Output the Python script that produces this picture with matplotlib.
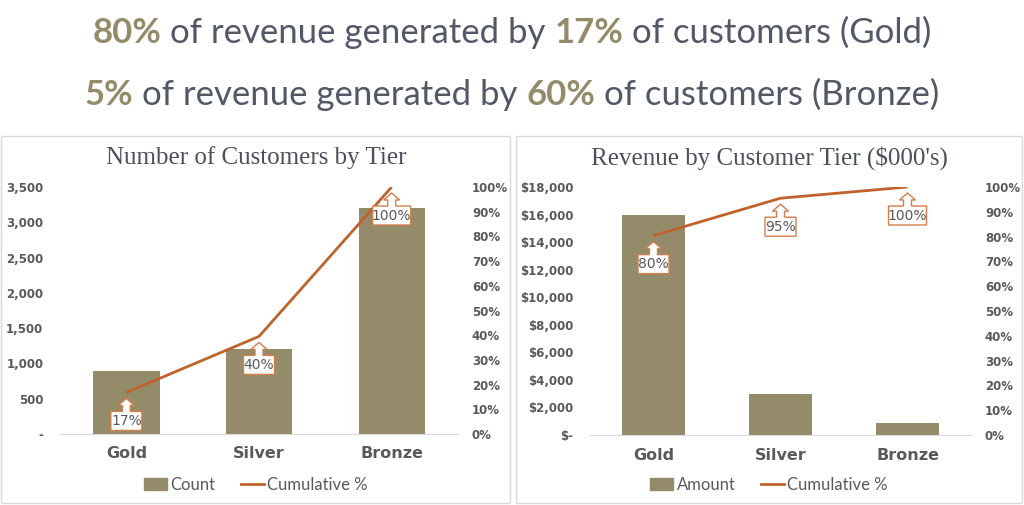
import numpy as np
import matplotlib
matplotlib.use("Agg")
import matplotlib.pyplot as plt
import matplotlib.transforms as mtransforms
from matplotlib.patches import Polygon, Rectangle
from matplotlib.lines import Line2D
from matplotlib.ticker import FixedLocator, FuncFormatter

# ---- data ----
tiers = ["Gold", "Silver", "Bronze"]
customer_counts = [890, 1200, 3200]
revenue_amounts = [16000, 3000, 900]   # $000's

count_ticks = [0, 500, 1000, 1500, 2000, 2500, 3000, 3500]
revenue_ticks = [0, 2000, 4000, 6000, 8000, 10000, 12000, 14000, 16000, 18000]
pct_ticks = [0.0, 0.1, 0.2, 0.3, 0.4, 0.5, 0.6, 0.7, 0.8, 0.9, 1.0]

header_lines = [
    [("80%", True), ("of revenue generated by", False), ("17%", True), ("of customers (Gold)", False)],
    [("5%", True), ("of revenue generated by", False), ("60%", True), ("of customers (Bronze)", False)],
]

BAR = "#948B6A"
LINE = "#C0622C"
CALLOUT_EDGE = "#D27F4B"
TXT = "#595959"
HEAD = "#535866"
TITLE = "#4B505C"
GRID = "#D9D9D9"

W, H = 1024, 505
fig = plt.figure(figsize=(W / 100, H / 100), dpi=100)


def fx(px):
    return px / W


def fy(py):
    return 1 - py / H


# ---- header with coloured percentages ----
renderer = fig.canvas.get_renderer()
head_font = "Lato"
head_size = 25


def draw_rich(y_px, parts):
    sp = fig.text(0, 0, "a a", fontsize=head_size, family=head_font)
    nsp = fig.text(0, 0, "aa", fontsize=head_size, family=head_font)
    space = sp.get_window_extent(renderer).width - nsp.get_window_extent(renderer).width
    sp.remove(); nsp.remove()
    objs, widths = [], []
    for s, bold in parts:
        t = fig.text(0, fy(y_px), s, fontsize=head_size, family=head_font,
                     fontweight="bold" if bold else "normal",
                     color=BAR if bold else HEAD, va="center", ha="left")
        objs.append(t)
        widths.append(t.get_window_extent(renderer).width)
    total = sum(widths) + space * (len(parts) - 1)
    x = (W - total) / 2
    for t, w in zip(objs, widths):
        t.set_x(fx(x))
        x += w + space


draw_rich(33, header_lines[0])
draw_rich(95, header_lines[1])

# ---- panel frames ----
fig.patches.append(Rectangle((fx(1), fy(503)), fx(509), 367 / H, transform=fig.transFigure,
                             fill=False, edgecolor=GRID, lw=1))
fig.patches.append(Rectangle((fx(516), fy(503)), fx(506), 367 / H, transform=fig.transFigure,
                             fill=False, edgecolor=GRID, lw=1))


def callout(ax, x, y, text):
    offset = mtransforms.ScaledTranslation(x, y, ax.transData)
    trans = mtransforms.Affine2D().scale(1 / 100.) + fig.dpi_scale_trans + offset
    w = 10 + 7 * len(text)
    top, bot = -19, -38
    pts = [(-w / 2, top), (-4, top), (-4, -13), (-8, -13), (0, -6), (8, -13), (4, -13),
           (4, top), (w / 2, top), (w / 2, bot), (-w / 2, bot)]
    ax.add_patch(Polygon(pts, closed=True, transform=trans, facecolor="white",
                         edgecolor=CALLOUT_EDGE, lw=1.0, zorder=5, clip_on=False))
    ax.text(0, (top + bot) / 2, text, transform=trans, ha="center", va="center",
            fontsize=10, color=TXT, family="DejaVu Sans", zorder=6)


def pareto(rect, values, ticks, fmt, title, legend_name, legend_x):
    ax = fig.add_axes(rect)
    xs = np.arange(len(tiers))
    ax.bar(xs, values, width=0.5, color=BAR, zorder=2)
    ax.set_xlim(-0.5, len(tiers) - 0.5)
    ax.set_ylim(ticks[0], ticks[-1])
    ax.yaxis.set_major_locator(FixedLocator(ticks))
    ax.yaxis.set_major_formatter(FuncFormatter(fmt))
    ax.set_xticks(xs)
    ax.set_xticklabels(tiers, fontsize=11.5, fontweight="bold", color=TXT, family="DejaVu Sans")
    for sp in ["top", "left", "right"]:
        ax.spines[sp].set_visible(False)
    ax.spines["bottom"].set_color(GRID)
    ax.tick_params(axis="x", length=0, pad=9)
    ax.tick_params(axis="y", length=0, pad=12, labelsize=8.5, labelcolor=TXT)
    for lab in ax.get_yticklabels():
        lab.set_fontweight("bold")

    cum = np.cumsum(values) / np.sum(values)
    ax2 = ax.twinx()
    ax2.plot(xs, cum, color=LINE, lw=2, zorder=3, solid_capstyle="butt")
    ax2.set_ylim(0, 1)
    ax2.yaxis.set_major_locator(FixedLocator(pct_ticks))
    ax2.yaxis.set_major_formatter(FuncFormatter(lambda v, p: f"{v * 100:.0f}%"))
    for sp in ["top", "left", "right", "bottom"]:
        ax2.spines[sp].set_visible(False)
    ax2.tick_params(axis="y", length=0, pad=10, labelsize=8.5, labelcolor=TXT)
    for lab in ax2.get_yticklabels():
        lab.set_fontweight("bold")
    for xi, c in zip(xs, cum):
        callout(ax2, xi, c, f"{c * 100:.0f}%")

    fig.text(fx(legend_x), fy(158), title, ha="center", va="center", fontsize=18,
             family="Liberation Serif", color=TITLE)
    handles = [Rectangle((0, 0), 1, 1, color=BAR),
               Line2D([], [], color=LINE, lw=2)]
    fig.legend(handles, [legend_name, "Cumulative %"], loc="center",
               bbox_to_anchor=(fx(legend_x), fy(485)), ncol=2, frameon=False,
               prop={"family": "Lato", "size": 12}, labelcolor=TXT,
               handlelength=1.4, handletextpad=0.2, columnspacing=1.5)
    return ax, ax2


pareto([fx(60), fy(434), fx(398), 247 / H], customer_counts, count_ticks,
       lambda v, p: "-" if v == 0 else f"{v:,.0f}",
       "Number of Customers by Tier", "Count", 256)
pareto([fx(590), fy(435), fx(381), 248 / H], revenue_amounts, revenue_ticks,
       lambda v, p: "$-" if v == 0 else f"${v:,.0f}",
       "Revenue by Customer Tier ($000's)", "Amount", 769)

fig.savefig("out.png", dpi=100, facecolor="white")
